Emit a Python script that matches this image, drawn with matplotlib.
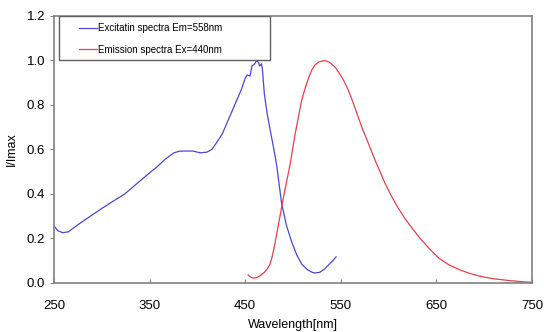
import matplotlib.pyplot as plt
from matplotlib.patches import Rectangle

plt.rcParams['font.family'] = ['Liberation Sans', 'DejaVu Sans']

# excitation spectrum (Em=558nm)
ex_nm = [250, 254, 259, 265, 275, 288, 300, 312, 324, 334, 343, 350, 358, 366, 375,
         381, 387, 395, 403, 410, 415, 420, 426, 431, 436, 441, 446, 450, 452, 455,
         457, 460, 462, 464, 465, 467, 468, 470, 473, 476, 480, 483, 488, 493, 499,
         504, 509, 515, 520, 523, 528, 533, 538, 542, 545]
ex_val = [0.256, 0.235, 0.226, 0.230, 0.262, 0.300, 0.335, 0.368, 0.400, 0.437, 0.470, 0.495,
          0.523, 0.555, 0.584, 0.592, 0.593, 0.593, 0.585, 0.588, 0.600, 0.630, 0.670, 0.720,
          0.770, 0.820, 0.870, 0.920, 0.935, 0.930, 0.975, 0.985, 1.000, 0.990, 0.975, 0.985,
          0.960, 0.850, 0.760, 0.690, 0.600, 0.526, 0.360, 0.260, 0.180, 0.125, 0.085, 0.060,
          0.048, 0.045, 0.048, 0.063, 0.085, 0.102, 0.117]

# emission spectrum (Ex=440nm)
em_nm = [453, 456, 458, 462, 466, 470, 473, 476, 478, 481, 484, 487, 490, 494, 497,
         502, 509, 513, 517, 520, 523, 527, 533, 538, 544, 548, 553, 558, 562, 567,
         572, 579, 586, 590, 596, 603, 610, 617, 626, 635, 644, 653, 663, 674, 684,
         695, 708, 722, 736, 750]
em_val = [0.036, 0.026, 0.022, 0.024, 0.034, 0.048, 0.063, 0.085, 0.115, 0.175, 0.245, 0.315,
          0.385, 0.470, 0.535, 0.665, 0.820, 0.880, 0.930, 0.960, 0.980, 0.993, 1.000, 0.992,
          0.970, 0.945, 0.910, 0.865, 0.820, 0.760, 0.700, 0.625, 0.550, 0.510, 0.450, 0.390,
          0.337, 0.290, 0.238, 0.190, 0.148, 0.110, 0.082, 0.060, 0.044, 0.031, 0.020, 0.013,
          0.007, 0.003]

x_ticks = [250, 350, 450, 550, 650, 750]
y_ticks = [0.0, 0.2, 0.4, 0.6, 0.8, 1.0, 1.2]

fig = plt.figure(figsize=(5.44, 3.32), dpi=100)
ax = fig.add_axes([0.0993, 0.1476, 0.8787, 0.8044])

ax.plot(ex_nm, ex_val, color='#4848d8', lw=0.9, label='Excitatin spectra Em=558nm')
ax.plot(em_nm, em_val, color='#e8404c', lw=0.9, label='Emission spectra Ex=440nm')

ax.set_xlim(250, 750)
ax.set_ylim(0, 1.2)
ax.set_xticks(x_ticks)
ax.set_yticks(y_ticks)
ax.set_yticklabels([f'{v:.1f}' for v in y_ticks])
ax.tick_params(axis='x', direction='in', length=3, pad=12, labelsize=9.5, color='#808080')
ax.tick_params(axis='y', direction='out', length=3, labelsize=9.5, color='#808080')

for s in ax.spines.values():
    s.set_color('#808080')
    s.set_linewidth(1.2)

ax.set_xlabel('Wavelength[nm]', fontsize=9, labelpad=5)
ax.set_ylabel('I/Imax', fontsize=9, labelpad=6)

# legend box drawn by hand, legend itself without frame
ax.add_patch(Rectangle((0.0105, 0.835), 0.4415, 0.165, transform=ax.transAxes,
                       fill=False, edgecolor='#606060', lw=1.0, zorder=5))
ax.legend(loc='upper left', bbox_to_anchor=(0.052, 0.972), borderaxespad=0,
          borderpad=0, fontsize=7, frameon=False, handlelength=1.85,
          handletextpad=0.15, labelspacing=1.15)

fig.savefig('out.png', dpi=100)
